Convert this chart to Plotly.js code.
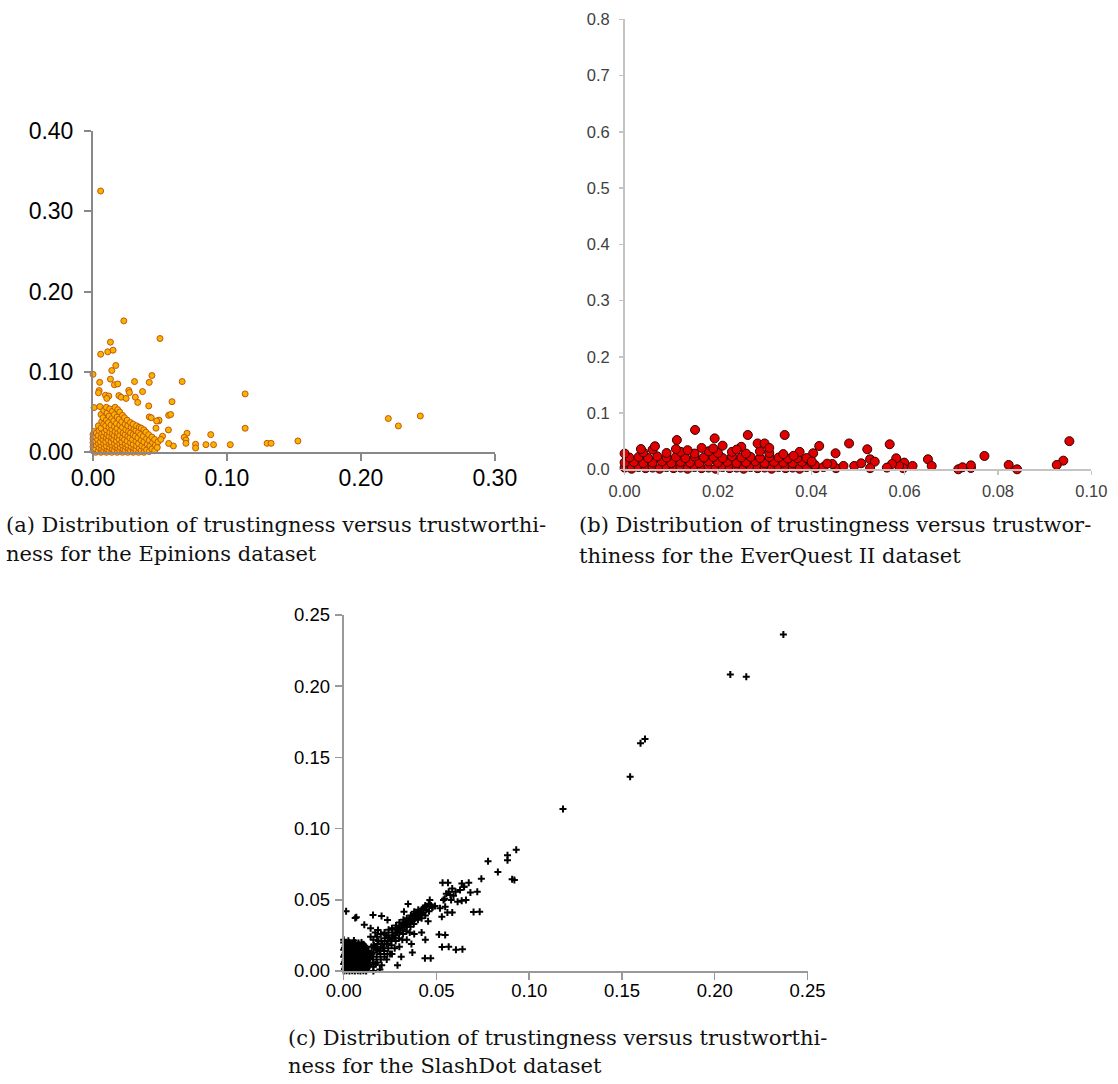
<!DOCTYPE html>
<html>
<head>
<meta charset="utf-8">
<script src="https://cdn.plot.ly/plotly-3.0.1.min.js"></script>
<style>html,body{margin:0;padding:0;background:#fff;}#chart{width:1118px;height:1084px;}</style>
</head>
<body>
<div id="chart"></div>
<script>
// ---------- DATA (trustworthiness x, trustingness y) ----------
const epinionsTicksX = [0, 0.10, 0.20, 0.30];
const epinionsTicksY = [0, 0.10, 0.20, 0.30, 0.40];
const everquestTicksX = [0, 0.02, 0.04, 0.06, 0.08, 0.10];
const everquestTicksY = [0, 0.1, 0.2, 0.3, 0.4, 0.5, 0.6, 0.7, 0.8];
const slashdotTicks = [0, 0.05, 0.10, 0.15, 0.20, 0.25];

// (a) Epinions: sparse outliers
const epinionsOutliers = [
 [0.0057,0.325],[0.023,0.1635],[0.050,0.1415],[0.013,0.137],[0.011,0.125],[0.015,0.127],
 [0.0057,0.122],[0.017,0.108],[0.014,0.1017],[0.000,0.097],[0.044,0.0955],[0.013,0.091],
 [0.005,0.087],[0.031,0.088],[0.042,0.087],[0.0666,0.088],[0.016,0.084],[0.0185,0.085],
 [0.1136,0.0726],[0.0267,0.077],[0.0272,0.0743],[0.037,0.0755],[0.0046,0.0768],[0.0041,0.074],
 [0.0093,0.071],[0.0118,0.070],[0.0103,0.067],[0.0193,0.0705],[0.021,0.0685],[0.0247,0.067],
 [0.0316,0.0685],[0.059,0.063],[0.0334,0.062],[0.0416,0.0577],[0.0008,0.0556],[0.0051,0.0569],
 [0.0565,0.046],[0.058,0.047],[0.2205,0.042],[0.2444,0.0452],[0.228,0.0328],[0.1136,0.0299],
 [0.0493,0.040],[0.0475,0.039],[0.0563,0.0278],[0.0702,0.0237],[0.0681,0.0187],[0.0879,0.022],
 [0.0694,0.0154],[0.0694,0.0112],[0.153,0.0141],[0.130,0.0112],[0.133,0.0112],[0.1025,0.0095],
 [0.0843,0.0095],[0.090,0.0095],[0.0766,0.0100],[0.0766,0.0054],[0.060,0.0079],[0.0565,0.011],
 [0.0519,0.020],[0.0506,0.016]
];
// (a) Epinions: dense cluster near the origin
const epinionsCluster = [
 [0.000,0.002],[0.000,0.007],[0.000,0.012],[0.000,0.017],[0.000,0.022],[0.001,0.026],
 [0.002,0.000],[0.002,0.004],[0.0025,0.009],[0.002,0.014],[0.002,0.019],[0.0025,0.024],
 [0.004,0.002],[0.0045,0.006],[0.004,0.011],[0.0035,0.016],[0.004,0.021],[0.0045,0.027],[0.004,0.033],
 [0.006,0.000],[0.0065,0.004],[0.006,0.009],[0.0055,0.013],[0.006,0.018],[0.0065,0.023],[0.006,0.030],[0.0065,0.038],[0.006,0.047],
 [0.008,0.002],[0.0085,0.006],[0.008,0.011],[0.0075,0.016],[0.008,0.020],[0.0085,0.025],[0.008,0.035],[0.0075,0.043],[0.008,0.052],
 [0.010,0.000],[0.0105,0.004],[0.010,0.008],[0.0095,0.013],[0.010,0.018],[0.0105,0.022],[0.010,0.028],[0.0095,0.033],[0.010,0.040],[0.0105,0.049],[0.010,0.056],
 [0.012,0.002],[0.0125,0.006],[0.012,0.011],[0.0115,0.015],[0.012,0.020],[0.0125,0.025],[0.012,0.031],[0.0115,0.037],[0.012,0.045],[0.0125,0.054],
 [0.014,0.000],[0.0145,0.004],[0.014,0.009],[0.0135,0.013],[0.014,0.018],[0.0145,0.023],[0.014,0.029],[0.0135,0.034],[0.014,0.042],[0.0145,0.051],
 [0.016,0.002],[0.0165,0.007],[0.016,0.011],[0.0155,0.016],[0.016,0.021],[0.0165,0.026],[0.016,0.032],[0.0155,0.039],[0.016,0.047],[0.0165,0.056],
 [0.018,0.000],[0.0185,0.005],[0.018,0.009],[0.0175,0.014],[0.018,0.019],[0.0185,0.024],[0.018,0.030],[0.0175,0.036],[0.018,0.044],[0.0185,0.053],
 [0.020,0.002],[0.0205,0.006],[0.020,0.011],[0.0195,0.016],[0.020,0.021],[0.0205,0.027],[0.020,0.034],[0.0195,0.041],[0.020,0.050],
 [0.022,0.000],[0.0225,0.004],[0.022,0.009],[0.0215,0.013],[0.022,0.018],[0.0225,0.024],[0.022,0.031],[0.0215,0.038],[0.022,0.046],
 [0.024,0.002],[0.0245,0.007],[0.024,0.011],[0.0235,0.016],[0.024,0.022],[0.0245,0.028],[0.024,0.035],[0.0235,0.043],
 [0.026,0.000],[0.0265,0.005],[0.026,0.009],[0.0255,0.014],[0.026,0.020],[0.0265,0.026],[0.026,0.033],[0.0255,0.040],
 [0.028,0.002],[0.0285,0.007],[0.028,0.012],[0.0275,0.018],[0.028,0.024],[0.0285,0.031],[0.028,0.037],
 [0.030,0.000],[0.0305,0.005],[0.030,0.010],[0.0295,0.016],[0.030,0.022],[0.0305,0.029],[0.030,0.035],
 [0.032,0.003],[0.0325,0.008],[0.032,0.014],[0.0315,0.020],[0.032,0.027],[0.0325,0.033],
 [0.034,0.000],[0.0345,0.005],[0.034,0.011],[0.0335,0.018],[0.034,0.025],[0.0345,0.031],
 [0.036,0.002],[0.0365,0.008],[0.036,0.015],[0.0355,0.022],[0.036,0.030],
 [0.038,0.000],[0.0385,0.006],[0.038,0.013],[0.0375,0.020],[0.038,0.028],
 [0.040,0.003],[0.0405,0.010],[0.040,0.017],[0.0395,0.025],
 [0.042,0.001],[0.0425,0.008],[0.042,0.015],[0.0415,0.022],[0.042,0.044],
 [0.044,0.004],[0.0445,0.012],[0.044,0.019],[0.0435,0.043],
 [0.046,0.002],[0.0465,0.009],[0.046,0.016],[0.047,0.030],
 [0.048,0.006],[0.0485,0.013],[0.049,0.039]
];

// (b) EverQuest II: sparse outliers
const everquestOutliers = [
 [0.0151,0.070],[0.0112,0.052],[0.0193,0.055],[0.0264,0.061],[0.0343,0.061],[0.0417,0.0415],
 [0.0481,0.046],[0.0568,0.0445],[0.052,0.0356],[0.0953,0.050],[0.094,0.0154],[0.0926,0.0077],
 [0.0771,0.0237],[0.0823,0.0077],[0.0841,0.000],[0.065,0.0178],[0.0658,0.006],[0.0715,0.000],
 [0.0724,0.0036],[0.0742,0.0024],[0.0742,0.007],[0.0617,0.006],[0.0599,0.0119],[0.0597,0.002],
 [0.0588,0.006],[0.0582,0.0196],[0.0573,0.0095],[0.0562,0.003],[0.0452,0.0285],[0.0453,0.002],
 [0.0469,0.006],[0.0445,0.0095],[0.0492,0.006],[0.0507,0.0107],[0.0526,0.0178],[0.0536,0.0136],
 [0.0526,0.002],[0.0404,0.0285],[0.0408,0.0077],[0.0375,0.031],[0.0390,0.020],[0.0362,0.024],
 [0.0426,0.004],[0.0434,0.010],[0.0401,0.014]
];
// (b) EverQuest II: dense band along the x axis
const everquestCluster = [
 [0.0000,0.003],[0.0015,0.001],[0.0030,0.004],[0.0045,0.002],[0.0060,0.003],[0.0075,0.001],[0.0090,0.004],
 [0.0105,0.002],[0.0120,0.003],[0.0135,0.001],[0.0150,0.004],[0.0165,0.002],[0.0180,0.003],[0.0195,0.001],
 [0.0210,0.004],[0.0225,0.002],[0.0240,0.003],[0.0255,0.001],[0.0270,0.004],[0.0285,0.002],[0.0300,0.003],
 [0.0315,0.001],[0.0330,0.004],[0.0345,0.002],[0.0360,0.003],[0.0375,0.001],[0.0390,0.004],[0.0410,0.002],
 [0.0000,0.012],[0.0020,0.013],[0.0040,0.011],[0.0060,0.012],[0.0080,0.014],[0.0100,0.011],[0.0120,0.013],
 [0.0140,0.012],[0.0160,0.011],[0.0180,0.014],[0.0200,0.012],[0.0220,0.013],[0.0240,0.011],[0.0260,0.012],
 [0.0280,0.014],[0.0300,0.011],[0.0320,0.013],[0.0340,0.012],[0.0360,0.011],[0.0380,0.013],[0.0400,0.012],
 [0.0010,0.021],[0.0030,0.022],[0.0050,0.020],[0.0070,0.023],[0.0090,0.021],[0.0110,0.022],[0.0130,0.020],
 [0.0150,0.023],[0.0170,0.021],[0.0190,0.022],[0.0210,0.020],[0.0230,0.023],[0.0250,0.021],[0.0270,0.022],
 [0.0290,0.020],[0.0310,0.022],[0.0330,0.021],[0.0350,0.019],[0.0370,0.020],
 [0.0000,0.028],[0.0040,0.030],[0.0060,0.035],[0.0090,0.029],[0.0120,0.031],[0.0150,0.028],[0.0180,0.032],
 [0.0200,0.029],[0.0230,0.031],[0.0260,0.028],[0.0290,0.032],[0.0310,0.029],[0.0340,0.027],
 [0.0065,0.041],[0.0110,0.036],[0.0190,0.037],[0.0210,0.042],[0.0250,0.040],[0.0285,0.046],
 [0.0300,0.046],[0.0310,0.038],[0.0240,0.035],[0.0165,0.038],[0.0035,0.036],[0.0135,0.034]
];

// (c) SlashDot: sparse points
const slashdotOutliers = [
 [0.237,0.2363],[0.2084,0.2083],[0.217,0.2066],[0.1624,0.163],[0.160,0.160],[0.1544,0.1364],
 [0.1182,0.1137],[0.093,0.0852],[0.0883,0.0812],[0.0883,0.0777],[0.0778,0.077],[0.0831,0.0695],
 [0.0742,0.0648],[0.0908,0.0644],[0.092,0.0639],[0.0533,0.062],[0.0637,0.0615],[0.0648,0.0592],
 [0.0683,0.0552],[0.070,0.0414],[0.0592,0.0529],[0.0614,0.0487],[0.0579,0.0498],[0.0585,0.058],
 [0.0566,0.0557],[0.0553,0.0543],[0.0544,0.0508],[0.0538,0.0498],[0.0559,0.041],[0.0514,0.0257],
 [0.053,0.0168],[0.0605,0.015],[0.0438,0.0089],[0.0013,0.042],[0.0068,0.0377],[0.0062,0.0372],
 [0.0111,0.0325],[0.0158,0.0393],[0.0145,0.030],[0.0185,0.0288],[0.0204,0.0386],[0.0236,0.0358],
 [0.0347,0.047],[0.0325,0.0416],[0.038,0.0416],[0.0399,0.0381],[0.0464,0.0499],[0.0418,0.040],
 [0.0477,0.0447],[0.0492,0.0456],[0.0519,0.044],[0.0547,0.0452],[0.0562,0.062],[0.0575,0.0534],
 [0.0603,0.0557],[0.0627,0.0569],[0.0649,0.0592],[0.0674,0.062],[0.0636,0.0494],[0.0659,0.0499],
 [0.0547,0.0253],[0.0566,0.0171],[0.064,0.0152],[0.0469,0.0089],[0.0585,0.041],[0.0733,0.0416],
 [0.072,0.0557],[0.0529,0.0381],[0.0195,0.001],[0.0160,0.000],[0.0290,0.004],[0.0310,0.010],
 [0.0250,0.012],[0.0365,0.019],[0.0370,0.013],[0.0420,0.027],[0.0440,0.022],[0.0455,0.035]
];
// (c) SlashDot: dense blob at the origin
const slashdotBlob = [
 [0.0000,0.0000],[0.0015,0.0002],[0.0031,0.0000],[0.0046,0.0001],[0.0060,0.0000],[0.0076,0.0002],[0.0090,0.0000],[0.0106,0.0001],[0.0121,0.0000],
 [0.0008,0.0025],[0.0023,0.0027],[0.0038,0.0024],[0.0053,0.0026],[0.0068,0.0025],[0.0083,0.0027],[0.0098,0.0024],[0.0113,0.0026],[0.0129,0.0025],
 [0.0000,0.0050],[0.0015,0.0052],[0.0030,0.0049],[0.0046,0.0051],[0.0061,0.0050],[0.0075,0.0052],[0.0091,0.0049],[0.0105,0.0051],[0.0120,0.0050],[0.0136,0.0048],
 [0.0008,0.0075],[0.0023,0.0077],[0.0038,0.0074],[0.0053,0.0076],[0.0068,0.0075],[0.0083,0.0077],[0.0098,0.0074],[0.0113,0.0076],[0.0128,0.0075],
 [0.0000,0.0100],[0.0015,0.0102],[0.0030,0.0099],[0.0046,0.0101],[0.0061,0.0100],[0.0075,0.0102],[0.0091,0.0099],[0.0105,0.0101],[0.0120,0.0100],[0.0134,0.0103],
 [0.0008,0.0125],[0.0023,0.0127],[0.0038,0.0124],[0.0053,0.0126],[0.0068,0.0125],[0.0083,0.0127],[0.0098,0.0124],[0.0113,0.0126],[0.0128,0.0128],
 [0.0000,0.0150],[0.0015,0.0152],[0.0030,0.0149],[0.0046,0.0151],[0.0061,0.0150],[0.0075,0.0152],[0.0091,0.0149],[0.0105,0.0151],[0.0120,0.0153],
 [0.0008,0.0175],[0.0023,0.0177],[0.0038,0.0174],[0.0053,0.0176],[0.0068,0.0175],[0.0083,0.0177],[0.0098,0.0174],[0.0113,0.0178],
 [0.0000,0.0200],[0.0016,0.0198],[0.0031,0.0201],[0.0047,0.0197],[0.0062,0.0199],[0.0080,0.0196],[0.0096,0.0200],[0.0000,0.0220],[0.0055,0.0215],
 [0.0004,0.0012],[0.0034,0.0013],[0.0064,0.0011],[0.0094,0.0014],[0.0124,0.0012],
 [0.0019,0.0037],[0.0049,0.0038],[0.0079,0.0036],[0.0109,0.0039],[0.0137,0.0036],
 [0.0004,0.0062],[0.0034,0.0063],[0.0064,0.0061],[0.0094,0.0064],[0.0124,0.0062],
 [0.0019,0.0087],[0.0049,0.0088],[0.0079,0.0086],[0.0109,0.0089],[0.0138,0.0087],
 [0.0004,0.0112],[0.0034,0.0113],[0.0064,0.0111],[0.0094,0.0114],[0.0124,0.0112],
 [0.0019,0.0137],[0.0049,0.0138],[0.0079,0.0136],[0.0109,0.0139],[0.0133,0.0140],
 [0.0004,0.0162],[0.0034,0.0163],[0.0064,0.0161],[0.0094,0.0164],[0.0120,0.0165],
 [0.0019,0.0187],[0.0049,0.0188],[0.0079,0.0186],[0.0106,0.0187],[0.0025,0.0212]
];
// (c) SlashDot: diagonal band
const slashdotBand = [
 [0.014,0.006],[0.0142,0.010],[0.0145,0.024],[0.0150,0.017],[0.016,0.003],[0.0158,0.008],[0.016,0.013],[0.0162,0.018],[0.016,0.022],
 [0.018,0.006],[0.0178,0.010],[0.018,0.015],[0.0182,0.019],[0.018,0.024],[0.0170,0.027],
 [0.020,0.008],[0.0198,0.012],[0.020,0.017],[0.0202,0.021],[0.020,0.026],[0.0192,0.014],
 [0.022,0.010],[0.0218,0.014],[0.022,0.019],[0.0222,0.023],[0.022,0.027],[0.0212,0.016],
 [0.024,0.016],[0.0238,0.021],[0.024,0.025],[0.0242,0.029],[0.0232,0.019],[0.0236,0.012],
 [0.026,0.012],[0.0258,0.018],[0.026,0.023],[0.0262,0.027],[0.026,0.030],[0.0252,0.021],
 [0.028,0.021],[0.0278,0.025],[0.028,0.029],[0.0282,0.032],[0.0272,0.023],[0.0288,0.027],
 [0.030,0.017],[0.0298,0.023],[0.030,0.027],[0.0302,0.031],[0.030,0.034],[0.0292,0.029],
 [0.032,0.026],[0.0318,0.029],[0.032,0.033],[0.0322,0.036],[0.0312,0.031],[0.0328,0.031],
 [0.034,0.022],[0.0338,0.028],[0.034,0.031],[0.0342,0.035],[0.034,0.037],[0.0332,0.033],
 [0.036,0.031],[0.0358,0.034],[0.036,0.037],[0.0362,0.039],[0.0352,0.036],[0.0368,0.035],
 [0.038,0.026],[0.0378,0.033],[0.038,0.036],[0.0382,0.039],[0.038,0.040],[0.0372,0.038],
 [0.040,0.036],[0.0398,0.038],[0.040,0.041],[0.0392,0.040],[0.0408,0.039],
 [0.042,0.037],[0.0418,0.040],[0.042,0.043],[0.0412,0.042],
 [0.044,0.039],[0.0438,0.045],[0.044,0.046],[0.0432,0.044],
 [0.046,0.042],[0.0458,0.047],[0.048,0.045],[0.0470,0.046],
 [0.0152,0.012],[0.0172,0.016],[0.0188,0.021],[0.0208,0.019],[0.0228,0.025],[0.0246,0.023],
 [0.0266,0.025],[0.0284,0.030],[0.0306,0.029],[0.0326,0.034],[0.0346,0.033],[0.0366,0.037],
 [0.0386,0.037],[0.0402,0.043],[0.0426,0.041],[0.0446,0.043],[0.0170,0.005],[0.0205,0.004],
 [0.0232,0.008],[0.0275,0.016],[0.0316,0.022],[0.0356,0.027]
];

// Caption lines: text, left x (px), centre y (px)
const captionLines = [
 ['(a) Distribution of trustingness versus trustworthi-', 5, 525],
 ['ness for the Epinions dataset', 5, 554],
 ['(b) Distribution of trustingness versus trustwor-', 578, 525],
 ['thiness for the EverQuest II dataset', 578, 556],
 ['(c) Distribution of trustingness versus trustworthi-', 287, 1038],
 ['ness for the SlashDot dataset', 287, 1066]
];

// ---------- FIGURE ----------
const X = a => a.map(p => p[0]);
const Y = a => a.map(p => p[1]);
const W = 1118, H = 1084;
const fx = px => px / W;
const fy = py => 1 - py / H;

const epiMarker = {symbol:'circle', size:6, color:'#f5b400', line:{color:'#c8560c', width:1}};
const eqMarker = {symbol:'circle', size:9, color:'#e00000', line:{color:'#300000', width:1}};
const sdMarker = {symbol:'cross-thin', size:5, color:'#000', line:{color:'#000', width:2}};

const traces = [
 {type:'scatter', mode:'markers', x:X(epinionsCluster), y:Y(epinionsCluster), xaxis:'x', yaxis:'y', marker:epiMarker, cliponaxis:false},
 {type:'scatter', mode:'markers', x:X(epinionsOutliers), y:Y(epinionsOutliers), xaxis:'x', yaxis:'y', marker:epiMarker, cliponaxis:false},
 {type:'scatter', mode:'markers', x:X(everquestCluster), y:Y(everquestCluster), xaxis:'x2', yaxis:'y2', marker:eqMarker, cliponaxis:false},
 {type:'scatter', mode:'markers', x:X(everquestOutliers), y:Y(everquestOutliers), xaxis:'x2', yaxis:'y2', marker:eqMarker, cliponaxis:false},
 {type:'scatter', mode:'markers', x:X(slashdotBlob), y:Y(slashdotBlob), xaxis:'x3', yaxis:'y3', marker:sdMarker, cliponaxis:false},
 {type:'scatter', mode:'markers', x:X(slashdotBand), y:Y(slashdotBand), xaxis:'x3', yaxis:'y3', marker:sdMarker, cliponaxis:false},
 {type:'scatter', mode:'markers', x:X(slashdotOutliers), y:Y(slashdotOutliers), xaxis:'x3', yaxis:'y3', marker:sdMarker, cliponaxis:false}
];

function ax(opts) {
  return Object.assign({
    showgrid:false, zeroline:false, showline:true, ticks:'outside', fixedrange:true,
    tickmode:'array'
  }, opts);
}

const fontA = {family:'Liberation Sans, Arial, sans-serif', size:23, color:'#000'};
const fontB = {family:'Liberation Sans, Arial, sans-serif', size:16.5, color:'#404040'};
const fontC = {family:'Liberation Sans, Arial, sans-serif', size:18.5, color:'#000'};

const layout = {
  width:W, height:H, margin:{l:0, r:0, t:0, b:0},
  paper_bgcolor:'#fff', plot_bgcolor:'rgba(0,0,0,0)', showlegend:false,
  xaxis: ax({domain:[fx(93), fx(494.8)], range:[0,0.30], anchor:'y', tickvals:epinionsTicksX, tickformat:'.2f',
    linecolor:'#888', linewidth:2, tickcolor:'#888', tickwidth:2, ticklen:7, tickfont:fontA, ticklabelstandoff:-3}),
  yaxis: ax({domain:[fy(452.3), fy(130.7)], range:[0,0.40], anchor:'x', tickvals:epinionsTicksY, tickformat:'.2f',
    linecolor:'#888', linewidth:2, tickcolor:'#888', tickwidth:2, ticklen:7, tickfont:fontA, ticklabelstandoff:6}),
  xaxis2: ax({domain:[fx(624.6), fx(1091.3)], range:[0,0.10], anchor:'y2', tickvals:everquestTicksX, tickformat:'.2f',
    linecolor:'#c4c4c4', linewidth:1.5, tickcolor:'#c4c4c4', tickwidth:1.5, ticklen:4, tickfont:fontB, ticklabelstandoff:2}),
  yaxis2: ax({domain:[fy(469.3), fy(19.3)], range:[0,0.8], anchor:'x2', tickvals:everquestTicksY, tickformat:'.1f',
    linecolor:'#c4c4c4', linewidth:1.5, tickcolor:'#c4c4c4', tickwidth:1.5, ticklen:4, tickfont:fontB, ticklabelstandoff:6}),
  xaxis3: ax({domain:[fx(343.7), fx(807.5)], range:[0,0.25], anchor:'y3', tickvals:slashdotTicks, tickformat:'.2f',
    linecolor:'#999', linewidth:2, tickcolor:'#999', tickwidth:1.5, ticklen:7, tickfont:fontC, ticklabelstandoff:-5}),
  yaxis3: ax({domain:[fy(971), fy(615)], range:[0,0.25], anchor:'x3', tickvals:slashdotTicks, tickformat:'.2f',
    linecolor:'#999', linewidth:2, tickcolor:'#999', tickwidth:1.5, ticklen:7, tickfont:fontC, ticklabelstandoff:1}),
  annotations: []
};

const capFont = {family:'DejaVu Serif, serif', size:21, color:'#111'};
captionLines.forEach(c => layout.annotations.push({
  text:c[0], x:fx(c[1]), y:fy(c[2]), xref:'paper', yref:'paper', xanchor:'left', yanchor:'middle',
  showarrow:false, font:capFont, borderpad:0
}));

Plotly.newPlot('chart', traces, layout, {displayModeBar:false, staticPlot:true});
</script>
</body>
</html>
